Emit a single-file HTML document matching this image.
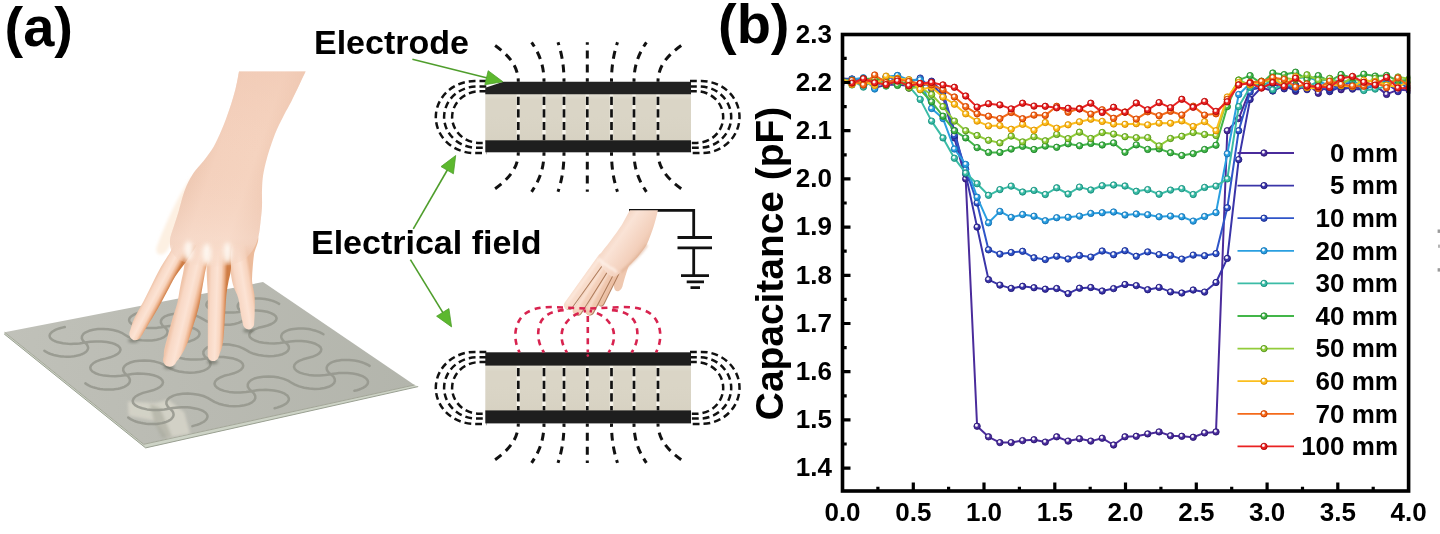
<!DOCTYPE html>
<html><head><meta charset="utf-8"><title>Figure</title>
<style>
html,body{margin:0;padding:0;background:#fff;}
body{width:1440px;height:534px;overflow:hidden;font-family:"Liberation Sans",sans-serif;}
svg{display:block;filter:blur(0.45px);}
text{font-family:"Liberation Sans",sans-serif;fill:#000;}
.b{font-weight:bold;}
.b25{font-weight:bold;font-size:26px;}
.b34{font-weight:bold;font-size:34px;}
.b55{font-weight:bold;font-size:56px;}
</style></head><body>
<svg width="1440" height="534" viewBox="0 0 1440 534">
<rect width="1440" height="534" fill="#ffffff"/>
<g id="handplate">
<defs>
<linearGradient id="plg" gradientUnits="userSpaceOnUse" x1="5" y1="330" x2="415" y2="390"><stop offset="0" stop-color="#c0c1b9"/><stop offset="0.5" stop-color="#b9bab2"/><stop offset="1" stop-color="#b3b5ac"/></linearGradient>
<filter id="bl1" x="-20%" y="-20%" width="140%" height="140%"><feGaussianBlur stdDeviation="0.7"/></filter>
<filter id="bl3" x="-50%" y="-50%" width="200%" height="200%"><feGaussianBlur stdDeviation="3.5"/></filter>
<filter id="bl05" x="-5%" y="-5%" width="110%" height="110%"><feGaussianBlur stdDeviation="0.6"/></filter>
<filter id="bl2b" x="-80%" y="-50%" width="260%" height="200%"><feGaussianBlur stdDeviation="2.2"/></filter>
<filter id="bl2" x="-50%" y="-50%" width="200%" height="200%"><feGaussianBlur stdDeviation="1.6"/></filter>
<clipPath id="plclip"><polygon points="4.6,332.3 263.0,282.0 414.5,385.0 143.7,444.3"/></clipPath>
</defs>
<g filter="url(#bl1)">
<polygon points="4.6,332.3 143.7,444.3 414.5,385.0 418.2,386.6 145.6,447.9 4.2,334.0" fill="#cdd3c6"/>
<polyline points="4.2,334.0 145.6,447.9 418.2,386.6" fill="none" stroke="#9aa092" stroke-width="1.0"/>
<polygon points="4.6,332.3 263.0,282.0 414.5,385.0 143.7,444.3" fill="url(#plg)"/>
<polyline points="4.6,332.3 143.7,444.3 414.5,385.0" fill="none" stroke="#a3a698" stroke-width="1"/>
<g clip-path="url(#plclip)">
<polygon points="127.8,401.5 156,403 168,399.5 184.3,412.2 190.2,434 167.5,437.8 155.6,421 128.7,415.8" fill="#d9d7cb" opacity="0.8" filter="url(#bl2)"/>
<polygon points="150,404 160,408 172,437 162,438 154,421" fill="#a5a699" opacity="0.55" filter="url(#bl2)"/>
<path d="M84.9,342.6 L90.3,341.8 L95.9,341.4 L101.5,341.5 L106.8,342.0 L111.5,342.9 L115.4,344.3 L118.2,345.9 L120.0,347.8 L120.5,349.8 L119.7,351.9 L117.7,353.9 L114.5,355.7 L110.4,357.3 L105.5,358.6 L100.5,359.8 L96.4,361.4 L93.2,363.3 L91.1,365.3 L90.3,367.5 L90.7,369.5 L92.4,371.5 L95.4,373.2 L99.3,374.6 L104.1,375.6 L109.5,376.1 L115.2,376.2 L121.0,375.8 L126.5,374.9 M84.9,342.6 L82.8,340.5 L81.8,338.3 L82.0,336.1 L83.3,334.1 L85.7,332.3 L89.1,330.8 L93.2,329.7 L97.9,329.0 L103.0,328.9 L108.1,329.2 L113.1,330.0 L117.7,331.2 L121.7,332.8 L124.8,334.7 L128.0,336.6 L131.9,338.2 L136.6,339.4 L141.6,340.2 L146.8,340.5 L151.9,340.4 L156.6,339.7 L160.7,338.6 L164.0,337.1 L166.2,335.3 L167.4,333.2 L167.5,331.1 L166.4,328.9 L164.2,326.8 M164.2,326.8 L169.5,326.0 L175.0,325.7 L180.5,325.7 L185.7,326.2 L190.4,327.2 L194.2,328.5 L197.2,330.1 L199.0,331.9 L199.6,333.9 L198.9,335.9 L197.1,337.8 L194.1,339.6 L190.1,341.2 L185.3,342.4 L180.5,343.6 L176.5,345.2 L173.5,347.0 L171.6,349.0 L170.9,351.0 L171.4,353.1 L173.2,355.0 L176.2,356.6 L180.2,358.0 L184.9,359.0 L190.3,359.5 L195.9,359.6 L201.6,359.2 L206.9,358.3 M164.2,326.8 L162.0,324.8 L160.9,322.6 L161.0,320.5 L162.2,318.5 L164.4,316.7 L167.6,315.3 L171.7,314.2 L176.3,313.6 L181.2,313.4 L186.3,313.7 L191.3,314.5 L195.9,315.7 L199.8,317.3 L203.0,319.1 L206.2,321.0 L210.2,322.5 L214.9,323.7 L219.9,324.5 L225.0,324.8 L230.0,324.7 L234.6,324.0 L238.5,322.9 L241.7,321.5 L243.8,319.7 L244.9,317.7 L244.8,315.6 L243.6,313.5 L241.3,311.5 M241.3,311.5 L246.5,310.7 L251.9,310.3 L257.3,310.4 L262.5,310.9 L267.1,311.8 L271.0,313.1 L274.0,314.6 L275.9,316.4 L276.6,318.3 L276.0,320.3 L274.3,322.2 L271.4,324.0 L267.6,325.5 L263.0,326.7 L258.4,327.8 L254.5,329.4 L251.6,331.1 L249.8,333.1 L249.3,335.1 L249.9,337.1 L251.8,338.9 L254.8,340.5 L258.8,341.9 L263.5,342.8 L268.8,343.3 L274.4,343.4 L279.9,343.0 L285.1,342.2 M126.5,374.9 L132.0,374.0 L137.7,373.6 L143.4,373.7 L148.8,374.2 L153.6,375.2 L157.6,376.6 L160.6,378.3 L162.4,380.3 L163.0,382.4 L162.3,384.6 L160.3,386.7 L157.1,388.6 L152.9,390.3 L148.0,391.6 L143.0,392.9 L138.8,394.6 L135.5,396.5 L133.5,398.7 L132.7,400.9 L133.2,403.1 L135.1,405.1 L138.1,406.9 L142.2,408.3 L147.1,409.4 L152.6,409.9 L158.5,410.0 L164.3,409.5 L169.9,408.6 M126.5,374.9 L124.3,372.7 L123.2,370.4 L123.3,368.1 L124.6,366.0 L127.0,364.1 L130.4,362.5 L134.6,361.3 L139.4,360.7 L144.5,360.5 L149.8,360.8 L154.9,361.6 L159.6,362.9 L163.7,364.6 L167.0,366.5 L170.2,368.5 L174.4,370.2 L179.1,371.5 L184.3,372.3 L189.6,372.7 L194.8,372.5 L199.6,371.8 L203.7,370.6 L207.0,369.0 L209.3,367.1 L210.4,365.0 L210.4,362.7 L209.2,360.5 L206.9,358.3 M206.9,358.3 L212.3,357.5 L217.9,357.1 L223.5,357.1 L228.8,357.7 L233.6,358.6 L237.6,360.0 L240.7,361.7 L242.6,363.6 L243.2,365.6 L242.7,367.7 L240.8,369.8 L237.8,371.7 L233.8,373.3 L229.0,374.6 L224.1,375.8 L220.1,377.5 L217.0,379.4 L215.1,381.5 L214.5,383.6 L215.1,385.7 L217.0,387.7 L220.1,389.5 L224.2,390.9 L229.1,391.9 L234.6,392.4 L240.3,392.5 L246.1,392.1 L251.5,391.2 M206.9,358.3 L204.6,356.2 L203.4,353.9 L203.4,351.7 L204.6,349.6 L206.8,347.7 L210.1,346.2 L214.1,345.1 L218.8,344.4 L223.9,344.3 L229.1,344.6 L234.1,345.4 L238.9,346.6 L243.0,348.3 L246.3,350.2 L249.6,352.1 L253.8,353.8 L258.5,355.0 L263.6,355.8 L268.9,356.2 L274.0,356.0 L278.6,355.3 L282.6,354.2 L285.8,352.6 L287.9,350.8 L288.9,348.7 L288.8,346.5 L287.5,344.3 L285.1,342.2 M285.1,342.2 L290.3,341.4 L295.8,341.0 L301.4,341.0 L306.6,341.6 L311.4,342.5 L315.4,343.8 L318.5,345.5 L320.5,347.3 L321.3,349.3 L320.8,351.4 L319.1,353.4 L316.3,355.2 L312.4,356.8 L307.7,358.0 L303.0,359.3 L299.1,360.9 L296.2,362.7 L294.5,364.8 L294.0,366.9 L294.7,368.9 L296.7,370.9 L299.8,372.6 L303.9,373.9 L308.8,374.9 L314.2,375.5 L319.9,375.5 L325.5,375.1 L330.8,374.2 M169.9,408.6 L167.6,406.3 L166.4,403.9 L166.5,401.5 L167.7,399.3 L170.1,397.3 L173.5,395.6 L177.8,394.4 L182.6,393.7 L187.9,393.5 L193.3,393.9 L198.5,394.7 L203.4,396.0 L207.6,397.8 L211.0,399.8 L214.4,401.9 L218.7,403.7 L223.6,405.0 L228.9,405.9 L234.3,406.2 L239.6,406.0 L244.5,405.3 L248.6,404.1 L252.0,402.4 L254.2,400.4 L255.3,398.2 L255.2,395.8 L253.9,393.4 L251.5,391.2 M251.5,391.2 L249.1,388.9 L247.8,386.6 L247.8,384.3 L248.9,382.1 L251.1,380.1 L254.3,378.5 L258.4,377.4 L263.2,376.7 L268.4,376.5 L273.7,376.8 L278.9,377.6 L283.7,378.9 L288.0,380.6 L291.5,382.7 L294.9,384.7 L299.2,386.4 L304.1,387.7 L309.4,388.5 L314.7,388.9 L319.9,388.7 L324.6,388.0 L328.7,386.8 L331.9,385.2 L334.0,383.2 L334.9,381.1 L334.7,378.8 L333.3,376.4 L330.8,374.2 M84.9,342.6 L82.2,343.1 L79.5,343.5 L76.7,343.7 L73.9,343.8 L71.0,343.9 L68.3,343.8 L65.6,343.6 L63.0,343.3 L60.6,342.8 L58.3,342.3 L56.3,341.7 L54.5,341.0 L52.9,340.2 L51.7,339.3 L50.7,338.4 L50.0,337.5 L49.7,336.5 L49.6,335.5 L49.9,334.5 L50.5,333.5 L51.4,332.5 L52.6,331.5 L54.1,330.6 L55.8,329.7 L57.8,328.9 L59.9,328.2 L62.3,327.6 L64.8,327.0 M169.9,408.6 L172.7,408.1 L175.5,407.7 L178.4,407.4 L181.3,407.3 L184.3,407.2 L187.2,407.3 L190.0,407.6 L192.7,407.9 L195.2,408.4 L197.6,408.9 L199.8,409.6 L201.8,410.4 L203.5,411.2 L204.9,412.2 L206.0,413.2 L206.8,414.2 L207.3,415.3 L207.5,416.4 L207.3,417.6 L206.8,418.7 L206.0,419.8 L204.8,420.9 L203.4,422.0 L201.6,422.9 L199.7,423.9 L197.4,424.7 L195.0,425.4 L192.4,426.1 M84.9,342.6 L86.1,343.7 L87.0,344.7 L87.6,345.9 L88.0,347.0 L88.1,348.1 L87.8,349.2 L87.3,350.3 L86.5,351.3 L85.4,352.3 L84.1,353.1 L82.5,354.0 L80.6,354.7 L78.6,355.3 L76.4,355.8 L74.1,356.2 L71.6,356.5 L69.0,356.7 L66.4,356.7 L63.8,356.6 L61.2,356.4 L58.6,356.0 L56.1,355.5 L53.7,355.0 L51.5,354.3 L49.4,353.5 L47.5,352.6 L45.8,351.7 L44.4,350.7 M241.3,311.5 L240.1,310.5 L239.1,309.5 L238.3,308.4 L237.9,307.4 L237.7,306.3 L237.8,305.3 L238.2,304.3 L238.9,303.3 L239.8,302.4 L241.0,301.6 L242.4,300.9 L244.1,300.2 L245.9,299.6 L248.0,299.2 L250.2,298.8 L252.5,298.5 L254.9,298.4 L257.4,298.4 L259.9,298.5 L262.4,298.7 L264.9,299.0 L267.3,299.4 L269.6,300.0 L271.9,300.6 L274.0,301.3 L275.9,302.1 L277.6,303.0 L279.1,303.9 M164.2,326.8 L161.6,327.3 L158.9,327.6 L156.2,327.9 L153.4,328.0 L150.6,328.0 L147.9,327.9 L145.2,327.7 L142.7,327.4 L140.2,327.0 L138.0,326.5 L136.0,325.9 L134.2,325.2 L132.6,324.4 L131.3,323.6 L130.3,322.7 L129.6,321.8 L129.2,320.8 L129.1,319.9 L129.3,318.9 L129.8,317.9 L130.7,316.9 L131.8,316.0 L133.2,315.1 L134.8,314.2 L136.7,313.5 L138.8,312.8 L141.1,312.1 L143.5,311.6 M251.5,391.2 L254.2,390.7 L256.9,390.3 L259.8,390.0 L262.7,389.9 L265.6,389.8 L268.4,389.9 L271.2,390.2 L273.9,390.5 L276.4,390.9 L278.8,391.5 L281.0,392.1 L282.9,392.9 L284.7,393.7 L286.1,394.7 L287.3,395.6 L288.1,396.7 L288.6,397.7 L288.9,398.8 L288.8,399.9 L288.3,401.0 L287.6,402.1 L286.5,403.2 L285.2,404.2 L283.5,405.1 L281.6,406.0 L279.5,406.8 L277.1,407.6 L274.6,408.2 M126.5,374.9 L127.7,376.0 L128.7,377.1 L129.4,378.3 L129.8,379.4 L129.9,380.6 L129.7,381.8 L129.2,382.9 L128.4,384.0 L127.3,385.0 L125.9,385.9 L124.3,386.8 L122.5,387.5 L120.4,388.2 L118.2,388.7 L115.8,389.1 L113.3,389.4 L110.7,389.6 L108.0,389.6 L105.3,389.5 L102.7,389.3 L100.0,388.9 L97.5,388.4 L95.0,387.8 L92.7,387.1 L90.5,386.3 L88.6,385.4 L86.9,384.4 L85.4,383.4 M285.1,342.2 L283.8,341.1 L282.7,340.1 L282.0,339.0 L281.5,337.9 L281.2,336.8 L281.3,335.7 L281.7,334.7 L282.3,333.7 L283.3,332.7 L284.5,331.9 L285.9,331.1 L287.6,330.4 L289.4,329.8 L291.5,329.3 L293.7,328.9 L296.0,328.7 L298.5,328.5 L301.0,328.5 L303.6,328.6 L306.1,328.8 L308.7,329.1 L311.2,329.6 L313.6,330.2 L315.9,330.8 L318.1,331.6 L320.0,332.4 L321.8,333.3 L323.4,334.3 M241.3,311.5 L238.8,311.9 L236.2,312.3 L233.5,312.5 L230.8,312.6 L228.0,312.6 L225.3,312.5 L222.7,312.4 L220.2,312.0 L217.8,311.6 L215.5,311.1 L213.5,310.5 L211.7,309.9 L210.1,309.1 L208.8,308.3 L207.7,307.4 L207.0,306.5 L206.5,305.6 L206.4,304.6 L206.6,303.7 L207.0,302.7 L207.8,301.8 L208.8,300.9 L210.1,300.0 L211.7,299.2 L213.5,298.4 L215.6,297.7 L217.8,297.1 L220.1,296.6 M330.8,374.2 L333.4,373.8 L336.1,373.4 L338.9,373.1 L341.7,373.0 L344.5,372.9 L347.4,373.0 L350.1,373.2 L352.8,373.6 L355.3,374.0 L357.7,374.5 L359.8,375.2 L361.8,375.9 L363.5,376.7 L365.0,377.6 L366.2,378.6 L367.1,379.6 L367.7,380.6 L368.0,381.7 L367.9,382.8 L367.6,383.8 L366.9,384.9 L365.9,385.9 L364.6,386.9 L363.0,387.8 L361.2,388.7 L359.2,389.5 L356.9,390.2 L354.4,390.8 M169.9,408.6 L171.2,409.8 L172.2,410.9 L173.0,412.2 L173.4,413.4 L173.6,414.6 L173.4,415.8 L172.9,417.0 L172.1,418.1 L171.1,419.2 L169.7,420.2 L168.1,421.1 L166.2,421.9 L164.2,422.5 L161.9,423.1 L159.5,423.6 L156.9,423.9 L154.3,424.0 L151.5,424.1 L148.8,424.0 L146.0,423.7 L143.3,423.3 L140.7,422.8 L138.2,422.2 L135.8,421.5 L133.6,420.6 L131.6,419.7 L129.8,418.6 L128.2,417.5 M330.8,374.2 L329.4,373.2 L328.3,372.0 L327.5,370.9 L326.9,369.8 L326.7,368.6 L326.7,367.5 L327.1,366.4 L327.7,365.4 L328.6,364.4 L329.8,363.5 L331.2,362.6 L332.9,361.9 L334.8,361.3 L336.9,360.8 L339.1,360.4 L341.5,360.1 L344.0,359.9 L346.6,359.9 L349.2,360.0 L351.8,360.2 L354.4,360.6 L357.0,361.1 L359.5,361.6 L361.8,362.3 L364.1,363.1 L366.1,364.0 L368.0,364.9 L369.6,365.9" fill="none" stroke="#94968c" stroke-width="2.5" stroke-linecap="round" stroke-linejoin="round" opacity="0.85" filter="url(#bl05)"/>
<ellipse cx="133.5" cy="340.5" rx="5.5" ry="2.2" fill="#55584e" opacity="0.55" filter="url(#bl2)"/>
<ellipse cx="169" cy="367" rx="5.5" ry="2.2" fill="#55584e" opacity="0.55" filter="url(#bl2)"/>
<ellipse cx="212.5" cy="362" rx="5.5" ry="2.2" fill="#55584e" opacity="0.55" filter="url(#bl2)"/>
<ellipse cx="248.5" cy="330.5" rx="5.5" ry="2.2" fill="#55584e" opacity="0.55" filter="url(#bl2)"/>
</g>
</g>
<defs>
<linearGradient id="skA" gradientUnits="userSpaceOnUse" x1="196" y1="130" x2="284" y2="160"><stop offset="0" stop-color="#eac2ab"/><stop offset="0.3" stop-color="#f4d1bd"/><stop offset="0.7" stop-color="#f5d3bf"/><stop offset="1" stop-color="#edc5ae"/></linearGradient>
<linearGradient id="skV" gradientUnits="userSpaceOnUse" x1="0" y1="70" x2="0" y2="280"><stop offset="0" stop-color="#f0c9b4" stop-opacity="0.6"/><stop offset="0.4" stop-color="#f3cdb9" stop-opacity="0"/><stop offset="0.8" stop-color="#fbe6da" stop-opacity="0.4"/><stop offset="1" stop-color="#f9ddcd" stop-opacity="0.3"/></linearGradient>
<linearGradient id="f1" gradientUnits="userSpaceOnUse" x1="151.8" y1="284.8" x2="166.6" y2="292.6"><stop offset="0" stop-color="#f0c5aa"/><stop offset="0.16" stop-color="#f8d8c5"/><stop offset="0.48" stop-color="#fce3d4"/><stop offset="0.7" stop-color="#f8d5bf"/><stop offset="0.85" stop-color="#ecb18a"/><stop offset="1" stop-color="#cf7d45"/></linearGradient>
<linearGradient id="f2" gradientUnits="userSpaceOnUse" x1="177.3" y1="303.0" x2="198.5" y2="308.2"><stop offset="0" stop-color="#f0c5aa"/><stop offset="0.16" stop-color="#f8d8c5"/><stop offset="0.48" stop-color="#fce3d4"/><stop offset="0.7" stop-color="#f8d5bf"/><stop offset="0.85" stop-color="#ecb18a"/><stop offset="1" stop-color="#cf7d45"/></linearGradient>
<linearGradient id="f3" gradientUnits="userSpaceOnUse" x1="207.8" y1="296.7" x2="226.2" y2="297.3"><stop offset="0" stop-color="#f0c5aa"/><stop offset="0.16" stop-color="#f8d8c5"/><stop offset="0.48" stop-color="#fce3d4"/><stop offset="0.7" stop-color="#f8d5bf"/><stop offset="0.85" stop-color="#ecb18a"/><stop offset="1" stop-color="#cf7d45"/></linearGradient>
<linearGradient id="f4" gradientUnits="userSpaceOnUse" x1="232.9" y1="284.6" x2="252.1" y2="281.4"><stop offset="0" stop-color="#f0c5aa"/><stop offset="0.2" stop-color="#f8d8c5"/><stop offset="0.55" stop-color="#fce3d4"/><stop offset="0.85" stop-color="#f7d3bd"/><stop offset="1" stop-color="#ecbb9b"/></linearGradient>
<linearGradient id="fadeg" gradientUnits="userSpaceOnUse" x1="0" y1="244" x2="0" y2="270"><stop offset="0" stop-color="#fff"/><stop offset="1" stop-color="#000"/></linearGradient>
<mask id="armfade" maskUnits="userSpaceOnUse" x="100" y="60" width="260" height="260"><rect x="100" y="60" width="260" height="260" fill="url(#fadeg)"/></mask>
</defs>
<g filter="url(#bl1)">
<path d="M192,176 C178,196 167,220 157,246 C154,254 161,258 167,251 C174,238 184,216 196,196 Z" fill="#fdf0e2" filter="url(#bl2)"/>
<path d="M229.0,233.0 C224.4,236.0 228.8,247.5 229.0,253.4 C229.2,259.4 229.6,263.2 230.3,268.4 C230.9,273.6 231.6,279.6 232.9,284.6 C234.2,289.6 237.0,293.6 238.3,298.4 C239.6,303.2 240.0,309.4 240.7,313.6 C241.5,317.7 242.3,321.2 242.8,323.3 C243.2,325.3 243.1,325.0 243.4,325.8 C243.8,326.5 244.3,327.2 244.8,327.8 C245.4,328.3 246.1,328.8 246.8,329.1 C247.5,329.3 248.3,329.5 249.0,329.4 C249.8,329.3 250.5,329.1 251.2,328.7 C251.8,328.3 252.5,327.8 252.9,327.1 C253.4,326.5 253.8,325.7 254.0,324.9 C254.2,324.1 254.1,324.4 254.2,322.3 C254.3,320.3 254.6,316.9 254.7,312.4 C254.7,308.0 255.0,300.8 254.5,295.6 C254.1,290.4 252.4,286.0 252.1,281.4 C251.8,276.7 252.4,272.1 252.7,267.6 C253.1,263.1 253.3,260.0 254.0,254.6 C254.7,249.1 261.1,238.6 257.0,235.0 C252.8,231.4 233.7,229.9 229.0,233.0Z" fill="url(#f4)"/>
<path d="M207.0,236.1 C203.1,239.7 206.7,252.5 206.6,258.1 C206.5,263.6 206.5,265.5 206.6,269.5 C206.6,273.6 206.9,277.8 207.1,282.3 C207.3,286.9 207.7,290.1 207.8,296.7 C207.9,303.2 207.7,314.1 207.8,321.7 C207.8,329.3 207.8,337.0 207.8,342.4 C207.8,347.7 207.7,351.3 207.7,353.6 C207.7,355.9 207.6,355.3 207.7,356.1 C207.9,356.9 208.2,357.8 208.6,358.5 C209.0,359.1 209.6,359.7 210.2,360.2 C210.8,360.6 211.6,360.9 212.3,361.0 C213.0,361.1 213.9,361.1 214.6,360.9 C215.3,360.7 216.0,360.3 216.6,359.8 C217.3,359.3 217.8,358.6 218.2,357.9 C218.6,357.1 218.3,357.8 219.1,355.4 C219.8,353.1 221.8,349.2 222.8,343.6 C223.7,338.1 224.1,330.0 224.6,322.3 C225.2,314.6 225.7,303.8 226.2,297.3 C226.8,290.9 227.3,288.1 228.1,283.7 C228.8,279.2 230.4,274.8 230.8,270.5 C231.3,266.2 230.7,263.7 230.6,257.9 C230.5,252.2 233.9,239.6 230.0,235.9 C226.1,232.3 210.9,232.4 207.0,236.1Z" fill="url(#f3)"/>
<path d="M187.6,234.8 C183.4,237.5 186.3,247.6 185.6,253.5 C184.9,259.3 184.5,264.5 183.6,270.0 C182.7,275.5 181.2,281.2 180.2,286.7 C179.1,292.2 178.6,297.6 177.3,303.0 C175.9,308.4 173.9,313.7 172.3,319.2 C170.7,324.7 169.1,331.0 167.8,335.9 C166.4,340.9 165.1,345.4 164.4,348.8 C163.7,352.2 163.9,354.5 163.7,356.3 C163.4,358.1 163.1,358.4 163.1,359.4 C163.0,360.4 163.2,361.4 163.5,362.3 C163.9,363.3 164.4,364.1 165.0,364.8 C165.7,365.5 166.5,366.0 167.3,366.3 C168.2,366.6 169.1,366.8 170.0,366.7 C171.0,366.6 171.9,366.3 172.8,365.9 C173.6,365.4 174.5,364.8 175.1,364.0 C175.8,363.2 175.7,362.8 176.7,361.3 C177.7,359.8 179.4,358.3 181.2,355.2 C183.0,352.1 185.6,347.6 187.6,342.7 C189.7,337.7 191.5,331.3 193.3,325.6 C195.1,319.8 197.1,314.0 198.5,308.2 C200.0,302.4 200.8,296.5 201.8,290.7 C202.9,285.0 203.7,279.5 204.8,273.8 C205.9,268.1 207.5,262.6 208.4,256.5 C209.3,250.4 213.9,240.8 210.4,237.2 C207.0,233.6 191.7,232.1 187.6,234.8Z" fill="url(#f2)"/>
<path d="M178.9,232.0 C174.7,233.4 175.2,242.5 172.2,248.4 C169.2,254.3 164.0,261.4 160.6,267.5 C157.2,273.5 154.6,279.1 151.8,284.8 C148.9,290.5 146.3,296.1 143.3,301.8 C140.3,307.4 136.2,314.1 134.0,318.9 C131.8,323.7 130.9,328.2 130.1,330.6 C129.3,333.0 129.5,332.4 129.4,333.3 C129.3,334.2 129.4,335.2 129.7,336.0 C129.9,336.8 130.4,337.6 130.9,338.3 C131.4,338.9 132.1,339.4 132.8,339.7 C133.6,340.1 134.4,340.3 135.2,340.2 C136.1,340.2 136.9,340.0 137.7,339.7 C138.5,339.3 139.3,338.7 139.9,338.1 C140.5,337.4 140.2,337.8 141.5,335.8 C142.7,333.8 144.8,330.3 147.4,325.9 C150.1,321.5 154.1,315.0 157.3,309.4 C160.5,303.9 163.6,298.1 166.6,292.6 C169.7,287.1 171.7,282.2 175.4,276.3 C179.1,270.5 185.2,263.7 188.8,257.6 C192.4,251.6 198.8,244.3 197.1,240.0 C195.5,235.8 183.0,230.6 178.9,232.0Z" fill="url(#f1)"/>
<g mask="url(#armfade)"><path d="M239.0,71.5 C238.4,74.4 237.1,82.8 235.5,89.0 C233.9,95.2 231.8,102.3 229.5,109.0 C227.2,115.7 224.7,122.7 222.0,129.0 C219.3,135.3 216.6,141.7 213.5,147.0 C210.4,152.3 206.8,156.7 203.5,161.0 C200.2,165.3 196.3,168.8 193.5,173.0 C190.7,177.2 188.4,181.7 186.5,186.0 C184.6,190.3 183.3,194.7 182.0,199.0 C180.7,203.3 179.8,207.5 178.5,212.0 C177.2,216.5 175.4,221.3 174.0,226.0 C172.6,230.7 170.3,235.7 170.0,240.0 C169.7,244.3 170.3,248.7 172.0,252.0 C173.7,255.3 176.7,258.0 180.0,260.0 C183.3,262.0 187.7,263.0 192.0,264.0 C196.3,265.0 201.3,265.7 206.0,266.0 C210.7,266.3 215.3,266.3 220.0,266.0 C224.7,265.7 229.7,265.3 234.0,264.0 C238.3,262.7 242.7,260.7 246.0,258.0 C249.3,255.3 251.9,251.7 254.0,248.0 C256.1,244.3 257.4,240.3 258.5,236.0 C259.6,231.7 259.9,227.0 260.5,222.0 C261.1,217.0 261.8,211.3 262.0,206.0 C262.2,200.7 261.8,195.0 262.0,190.0 C262.2,185.0 262.2,181.3 263.0,176.0 C263.8,170.7 265.0,165.0 267.0,158.0 C269.0,151.0 272.3,140.8 275.0,134.0 C277.7,127.2 280.2,122.7 283.0,117.0 C285.8,111.3 288.2,107.6 292.0,100.0 C295.8,92.4 303.3,76.2 305.6,71.5 Z" fill="url(#skA)"/>
<path d="M239.0,71.5 C238.4,74.4 237.1,82.8 235.5,89.0 C233.9,95.2 231.8,102.3 229.5,109.0 C227.2,115.7 224.7,122.7 222.0,129.0 C219.3,135.3 216.6,141.7 213.5,147.0 C210.4,152.3 206.8,156.7 203.5,161.0 C200.2,165.3 196.3,168.8 193.5,173.0 C190.7,177.2 188.4,181.7 186.5,186.0 C184.6,190.3 183.3,194.7 182.0,199.0 C180.7,203.3 179.8,207.5 178.5,212.0 C177.2,216.5 175.4,221.3 174.0,226.0 C172.6,230.7 170.3,235.7 170.0,240.0 C169.7,244.3 170.3,248.7 172.0,252.0 C173.7,255.3 176.7,258.0 180.0,260.0 C183.3,262.0 187.7,263.0 192.0,264.0 C196.3,265.0 201.3,265.7 206.0,266.0 C210.7,266.3 215.3,266.3 220.0,266.0 C224.7,265.7 229.7,265.3 234.0,264.0 C238.3,262.7 242.7,260.7 246.0,258.0 C249.3,255.3 251.9,251.7 254.0,248.0 C256.1,244.3 257.4,240.3 258.5,236.0 C259.6,231.7 259.9,227.0 260.5,222.0 C261.1,217.0 261.8,211.3 262.0,206.0 C262.2,200.7 261.8,195.0 262.0,190.0 C262.2,185.0 262.2,181.3 263.0,176.0 C263.8,170.7 265.0,165.0 267.0,158.0 C269.0,151.0 272.3,140.8 275.0,134.0 C277.7,127.2 280.2,122.7 283.0,117.0 C285.8,111.3 288.2,107.6 292.0,100.0 C295.8,92.4 303.3,76.2 305.6,71.5 Z" fill="url(#skV)"/></g>
<ellipse cx="188.5" cy="251" rx="4.6" ry="10" fill="#fffaf4" opacity="0.9" filter="url(#bl2b)"/>
<ellipse cx="207" cy="254" rx="4.6" ry="10.5" fill="#fffaf4" opacity="0.9" filter="url(#bl2b)"/>
<ellipse cx="227.5" cy="253" rx="4.6" ry="10.5" fill="#fffaf4" opacity="0.9" filter="url(#bl2b)"/>
</g>
</g>
<g id="diagram">
<defs><linearGradient id="dielg" x1="0" x2="0" y1="0" y2="1"><stop offset="0" stop-color="#fff" stop-opacity="0.25"/><stop offset="0.15" stop-color="#fff" stop-opacity="0.0"/><stop offset="1" stop-color="#8a7f60" stop-opacity="0.04"/></linearGradient></defs>
<path d="M518.3,152.3 C518.3,168.3 508.6,179.8 490.6,191.8 M518.3,81.8 C518.3,65.8 508.6,54.3 490.6,42.3 M544.0,152.3 C544.0,168.3 539.7,179.8 531.6,191.8 M544.0,81.8 C544.0,65.8 539.7,54.3 531.6,42.3 M564.0,152.3 C564.0,168.3 561.9,179.8 558.0,191.8 M564.0,81.8 C564.0,65.8 561.9,54.3 558.0,42.3 M587.3,152.3 C587.3,168.3 587.3,179.8 587.3,191.8 M587.3,81.8 C587.3,65.8 587.3,54.3 587.3,42.3 M611.5,152.3 C611.5,168.3 613.6,179.8 617.5,191.8 M611.5,81.8 C611.5,65.8 613.6,54.3 617.5,42.3 M634.0,152.3 C634.0,168.3 638.3,179.8 646.4,191.8 M634.0,81.8 C634.0,65.8 638.3,54.3 646.4,42.3 M658.0,152.3 C658.0,168.3 667.7,179.8 685.7,191.8 M658.0,81.8 C658.0,65.8 667.7,54.3 685.7,42.3" fill="none" stroke="#111" stroke-width="3.0" stroke-dasharray="7.9 6.0" stroke-dashoffset="4.6"/>
<path d="M486.3,81.1 h-11.6 a38.9,36 0 0 0 0,72.0 h11.6 M690.0,81.1 h11.6 a37.9,36 0 0 1 0,72.0 h-11.6 M486.3,86.4 h-9.2 a33.0,30.7 0 0 0 0,61.4 h9.2 M690.0,86.4 h9.2 a32.0,30.7 0 0 1 0,61.4 h-9.2 M486.3,91.3 h-6.7 a27.5,25.8 0 0 0 0,51.6 h6.7 M690.0,91.3 h6.7 a26.5,25.8 0 0 1 0,51.6 h-6.7" fill="none" stroke="#111" stroke-width="2.5" stroke-dasharray="6.8 4.0"/>
<rect x="485.3" y="93.2" width="205.7" height="48.1" fill="#dad5c6"/>
<rect x="485.3" y="93.2" width="205.7" height="48.1" fill="url(#dielg)"/>
<path d="M518.3,94.2V140.3 M544.0,94.2V140.3 M564.0,94.2V140.3 M587.3,94.2V140.3 M611.5,94.2V140.3 M634.0,94.2V140.3 M658.0,94.2V140.3" stroke="#f6f3ea" stroke-width="3.4" fill="none"/>
<path d="M518.3,94.2V140.3 M544.0,94.2V140.3 M564.0,94.2V140.3 M587.3,94.2V140.3 M611.5,94.2V140.3 M634.0,94.2V140.3 M658.0,94.2V140.3" stroke="#111" stroke-width="2.7" fill="none" stroke-dasharray="8.2 4.4" stroke-dashoffset="-2.5"/>
<polygon points="485.3,94.2 485.3,87.8 503.3,81.8 691.0,81.8 691.0,94.2" fill="#222"/>
<rect x="485.3" y="140.3" width="205.7" height="12.0" fill="#1e1e1e"/>
<path d="M518.3,423.4 C518.3,439.4 508.6,450.9 490.6,462.9 M544.0,423.4 C544.0,439.4 539.7,450.9 531.6,462.9 M564.0,423.4 C564.0,439.4 561.9,450.9 558.0,462.9 M587.3,423.4 C587.3,439.4 587.3,450.9 587.3,462.9 M611.5,423.4 C611.5,439.4 613.6,450.9 617.5,462.9 M634.0,423.4 C634.0,439.4 638.3,450.9 646.4,462.9 M658.0,423.4 C658.0,439.4 667.7,450.9 685.7,462.9" fill="none" stroke="#111" stroke-width="3.0" stroke-dasharray="7.9 6.0" stroke-dashoffset="4.6"/>
<path d="M486.3,351.9 h-11.6 a38.9,36 0 0 0 0,72.0 h11.6 M690.0,351.9 h11.6 a37.9,36 0 0 1 0,72.0 h-11.6 M486.3,357.2 h-9.2 a33.0,30.7 0 0 0 0,61.4 h9.2 M690.0,357.2 h9.2 a32.0,30.7 0 0 1 0,61.4 h-9.2 M486.3,362.1 h-6.7 a27.5,25.8 0 0 0 0,51.6 h6.7 M690.0,362.1 h6.7 a26.5,25.8 0 0 1 0,51.6 h-6.7" fill="none" stroke="#111" stroke-width="2.5" stroke-dasharray="6.8 4.0"/>
<rect x="485.3" y="364.6" width="205.7" height="46.8" fill="#dad5c6"/>
<rect x="485.3" y="364.6" width="205.7" height="46.8" fill="url(#dielg)"/>
<path d="M518.3,365.6V410.4 M544.0,365.6V410.4 M564.0,365.6V410.4 M587.3,365.6V410.4 M611.5,365.6V410.4 M634.0,365.6V410.4 M658.0,365.6V410.4" stroke="#f6f3ea" stroke-width="3.4" fill="none"/>
<path d="M518.3,365.6V410.4 M544.0,365.6V410.4 M564.0,365.6V410.4 M587.3,365.6V410.4 M611.5,365.6V410.4 M634.0,365.6V410.4 M658.0,365.6V410.4" stroke="#111" stroke-width="2.7" fill="none" stroke-dasharray="8.2 4.4" stroke-dashoffset="-2.5"/>
<rect x="485.3" y="352.3" width="205.7" height="13.3" fill="#1e1e1e"/>
<rect x="485.3" y="410.4" width="205.7" height="13.0" fill="#1e1e1e"/>
<path d="M629,210.3 H693.7 V237.5 M677.5,237.5 H712 M677.5,247.8 H712 M693.7,247.8 V275.7 M681,275.7 H709 M686.7,281.8 H704 M690.5,287.6 H700" fill="none" stroke="#111" stroke-width="2.8"/>
<circle cx="587.8" cy="355.6" r="1.3" fill="#d8234f"/>
<defs><linearGradient id="sh1" gradientUnits="userSpaceOnUse" x1="600" y1="240" x2="640" y2="268"><stop offset="0" stop-color="#efcab4"/><stop offset="0.3" stop-color="#fae3d6"/><stop offset="0.7" stop-color="#f3d0bc"/><stop offset="1" stop-color="#e2b598"/></linearGradient><filter id="sbl" x="-20%" y="-20%" width="140%" height="140%"><feGaussianBlur stdDeviation="0.55"/></filter><filter id="sbl2" x="-50%" y="-50%" width="200%" height="200%"><feGaussianBlur stdDeviation="1.0"/></filter></defs>
<g filter="url(#sbl)">
<path d="M633,254 C629,265 625,276 622.8,285 C621.8,290.5 617.5,293 615,290 C613,286.5 613.3,278 614,271 C616,263 622,255 628,249 Z" fill="#efc8b0"/>
<line x1="617.9" y1="268.6" x2="601.1" y2="302.6" stroke="#a87452" stroke-width="7.4" stroke-linecap="round" opacity="0.9"/>
<line x1="617" y1="268" x2="600.2" y2="302.0" stroke="#ecbfa3" stroke-width="7.4" stroke-linecap="round"/>
<line x1="615.8" y1="267.2" x2="599.6" y2="299.5" stroke="#fff1e8" stroke-width="2.6" stroke-linecap="round" opacity="0.55" filter="url(#sbl2)"/>
<line x1="613.4" y1="266.6" x2="590.1" y2="311.20000000000005" stroke="#a87452" stroke-width="8.6" stroke-linecap="round" opacity="0.9"/>
<line x1="612.5" y1="266" x2="589.2" y2="310.6" stroke="#f0c7ae" stroke-width="8.6" stroke-linecap="round"/>
<line x1="611.3" y1="265.2" x2="588.6" y2="308.1" stroke="#fff1e8" stroke-width="3.0" stroke-linecap="round" opacity="0.55" filter="url(#sbl2)"/>
<line x1="608.4" y1="263.1" x2="577.9" y2="311.40000000000003" stroke="#a87452" stroke-width="8.8" stroke-linecap="round" opacity="0.9"/>
<line x1="607.5" y1="262.5" x2="577.0" y2="310.8" stroke="#f4d0ba" stroke-width="8.8" stroke-linecap="round"/>
<line x1="606.3" y1="261.7" x2="576.4" y2="308.3" stroke="#fff1e8" stroke-width="3.1" stroke-linecap="round" opacity="0.55" filter="url(#sbl2)"/>
<line x1="603.1" y1="258.1" x2="569.0" y2="305.8" stroke="#a87452" stroke-width="8.6" stroke-linecap="round" opacity="0.9"/>
<line x1="602.2" y1="257.5" x2="568.1" y2="305.2" stroke="#f8dccb" stroke-width="8.6" stroke-linecap="round"/>
<line x1="601.0" y1="256.7" x2="567.5" y2="302.7" stroke="#fff1e8" stroke-width="3.0" stroke-linecap="round" opacity="0.55" filter="url(#sbl2)"/>
<path d="M629.8,210.3 L657.9,210.3 C656,220 652,233 646.6,245 C642,252 637,258 631,264 C626,269 621,273 616,276 C612,279 603,272 597.5,258 C602,251 606.5,246 610.7,240.4 C615,234.5 618.5,230 621.9,224.7 Z" fill="url(#sh1)"/>
<path d="M599,259 L604,264 M606,264.5 L611,268.5 M612.5,268.5 L616,271.5" stroke="#fff5ee" stroke-width="2.6" stroke-linecap="round" opacity="0.75" filter="url(#sbl2)"/>
<path d="M647,245 C641,254 632,263 621,272" fill="none" stroke="#d8a585" stroke-width="2.4" opacity="0.55" filter="url(#sbl2)"/>
</g>
<path d="M519.6,352.5 C514.0,342.0 513.5,328.0 520.8,318.0 C527.0,310.0 538.0,307.0 552.0,307.0 L586.0,308.5 M656.0,352.5 C661.6,342.0 662.1,328.0 654.8,318.0 C648.6,310.0 637.6,307.0 623.6,307.0 L589.6,308.5 M544.0,352.5 C537.0,342.0 536.5,330.0 541.5,320.6 C547.0,312.5 556.0,310.3 567.0,310.0 M631.6,352.5 C638.6,342.0 639.1,330.0 634.1,320.6 C628.6,312.5 619.6,310.3 608.6,310.0 M567.0,352.5 C560.5,343.0 559.5,331.0 566.0,323.0 C571.0,316.0 578.0,312.5 586.0,311.0 M608.6,352.5 C615.1,343.0 616.1,331.0 609.6,323.0 C604.6,316.0 597.6,312.5 589.6,311.0 M587.8,352.5 V313" fill="none" stroke="#d8234f" stroke-width="2.6" stroke-dasharray="6 5.2" stroke-dashoffset="3"/>
<line x1="412.4" y1="59.3" x2="488.4" y2="78.2" stroke="#4f9e2c" stroke-width="1.6"/><polygon points="503.0,81.8 484.8,84.7 488.2,70.7" fill="#5cb82e" stroke="#4f9e2c" stroke-width="0.8" stroke-linejoin="round"/>
<line x1="413.3" y1="228.8" x2="448.2" y2="168.5" stroke="#4f9e2c" stroke-width="1.6"/><polygon points="455.7,155.5 453.4,173.8 441.0,166.6" fill="#5cb82e" stroke="#4f9e2c" stroke-width="0.8" stroke-linejoin="round"/>
<line x1="410.4" y1="259.7" x2="443.8" y2="314.1" stroke="#4f9e2c" stroke-width="1.6"/><polygon points="451.6,326.9 436.6,316.2 448.9,308.6" fill="#5cb82e" stroke="#4f9e2c" stroke-width="0.8" stroke-linejoin="round"/>
</g>
<g id="chart">
<defs>
<radialGradient id="m0" cx="0.40" cy="0.36" r="0.62"><stop offset="0" stop-color="#ffffff"/><stop offset="0.22" stop-color="#ffffff" stop-opacity="0.9"/><stop offset="0.5" stop-color="#4a2b9b"/><stop offset="0.8" stop-color="#4a2b9b"/><stop offset="1" stop-color="#2e1a78"/></radialGradient>
<radialGradient id="m5" cx="0.40" cy="0.36" r="0.62"><stop offset="0" stop-color="#ffffff"/><stop offset="0.22" stop-color="#ffffff" stop-opacity="0.9"/><stop offset="0.5" stop-color="#3a34a8"/><stop offset="0.8" stop-color="#3a34a8"/><stop offset="1" stop-color="#231c80"/></radialGradient>
<radialGradient id="m10" cx="0.40" cy="0.36" r="0.62"><stop offset="0" stop-color="#ffffff"/><stop offset="0.22" stop-color="#ffffff" stop-opacity="0.9"/><stop offset="0.5" stop-color="#2f55c8"/><stop offset="0.8" stop-color="#2f55c8"/><stop offset="1" stop-color="#1c2f96"/></radialGradient>
<radialGradient id="m20" cx="0.40" cy="0.36" r="0.62"><stop offset="0" stop-color="#ffffff"/><stop offset="0.22" stop-color="#ffffff" stop-opacity="0.9"/><stop offset="0.5" stop-color="#2a9fe0"/><stop offset="0.8" stop-color="#2a9fe0"/><stop offset="1" stop-color="#1677ba"/></radialGradient>
<radialGradient id="m30" cx="0.40" cy="0.36" r="0.62"><stop offset="0" stop-color="#ffffff"/><stop offset="0.22" stop-color="#ffffff" stop-opacity="0.9"/><stop offset="0.5" stop-color="#3bbca6"/><stop offset="0.8" stop-color="#3bbca6"/><stop offset="1" stop-color="#1a9482"/></radialGradient>
<radialGradient id="m40" cx="0.40" cy="0.36" r="0.62"><stop offset="0" stop-color="#ffffff"/><stop offset="0.22" stop-color="#ffffff" stop-opacity="0.9"/><stop offset="0.5" stop-color="#43b649"/><stop offset="0.8" stop-color="#43b649"/><stop offset="1" stop-color="#228a2e"/></radialGradient>
<radialGradient id="m50" cx="0.40" cy="0.36" r="0.62"><stop offset="0" stop-color="#ffffff"/><stop offset="0.22" stop-color="#ffffff" stop-opacity="0.9"/><stop offset="0.5" stop-color="#92cc3a"/><stop offset="0.8" stop-color="#92cc3a"/><stop offset="1" stop-color="#5a9c1c"/></radialGradient>
<radialGradient id="m60" cx="0.40" cy="0.36" r="0.62"><stop offset="0" stop-color="#ffffff"/><stop offset="0.22" stop-color="#ffffff" stop-opacity="0.9"/><stop offset="0.5" stop-color="#fbbf1e"/><stop offset="0.8" stop-color="#fbbf1e"/><stop offset="1" stop-color="#e09000"/></radialGradient>
<radialGradient id="m70" cx="0.40" cy="0.36" r="0.62"><stop offset="0" stop-color="#ffffff"/><stop offset="0.22" stop-color="#ffffff" stop-opacity="0.9"/><stop offset="0.5" stop-color="#f46a1a"/><stop offset="0.8" stop-color="#f46a1a"/><stop offset="1" stop-color="#d04000"/></radialGradient>
<radialGradient id="m100" cx="0.40" cy="0.36" r="0.62"><stop offset="0" stop-color="#ffffff"/><stop offset="0.22" stop-color="#ffffff" stop-opacity="0.9"/><stop offset="0.5" stop-color="#ea2222"/><stop offset="0.8" stop-color="#ea2222"/><stop offset="1" stop-color="#b80808"/></radialGradient>
</defs>
<clipPath id="plotclip"><rect x="841.3" y="34.5" width="568.9" height="456.5"/></clipPath>
<g clip-path="url(#plotclip)">
<path d="M840.6,79.8 L852.0,80.9 L863.4,79.1 L874.7,87.9 L886.1,84.9 L897.5,84.4 L908.9,85.9 L920.2,86.3 L931.6,82.5 L943.0,97.0 L954.4,137.9 L965.7,178.9 L977.1,426.2 L988.5,436.8 L999.9,442.6 L1011.2,442.6 L1022.6,440.6 L1034.0,439.7 L1045.3,442.1 L1056.7,436.8 L1068.1,441.1 L1079.5,438.7 L1090.8,441.1 L1102.2,438.2 L1113.6,445.0 L1125.0,436.8 L1136.3,436.3 L1147.7,433.9 L1159.1,431.9 L1170.5,435.8 L1181.8,436.3 L1193.2,437.3 L1204.6,432.9 L1216.0,431.9 L1227.3,130.7 L1238.7,118.6 L1250.1,89.7 L1261.5,87.6 L1272.8,91.0 L1284.2,85.4 L1295.6,91.3 L1307.0,83.7 L1318.3,93.3 L1329.7,83.4 L1341.1,89.7 L1352.5,86.7 L1363.8,88.9 L1375.2,85.4 L1386.6,94.4 L1398.0,89.6 L1409.3,90.6" fill="none" stroke="#4a2b9b" stroke-width="2.0" stroke-linejoin="round"/>
<g fill="url(#m0)" stroke="#2e1a78" stroke-width="0.9">
<circle cx="840.6" cy="79.8" r="3.2"/><circle cx="852.0" cy="80.9" r="3.2"/><circle cx="863.4" cy="79.1" r="3.2"/><circle cx="874.7" cy="87.9" r="3.2"/><circle cx="886.1" cy="84.9" r="3.2"/><circle cx="897.5" cy="84.4" r="3.2"/><circle cx="908.9" cy="85.9" r="3.2"/><circle cx="920.2" cy="86.3" r="3.2"/><circle cx="931.6" cy="82.5" r="3.2"/><circle cx="943.0" cy="97.0" r="3.2"/><circle cx="954.4" cy="137.9" r="3.2"/><circle cx="965.7" cy="178.9" r="3.2"/><circle cx="977.1" cy="426.2" r="3.2"/><circle cx="988.5" cy="436.8" r="3.2"/><circle cx="999.9" cy="442.6" r="3.2"/><circle cx="1011.2" cy="442.6" r="3.2"/><circle cx="1022.6" cy="440.6" r="3.2"/><circle cx="1034.0" cy="439.7" r="3.2"/><circle cx="1045.3" cy="442.1" r="3.2"/><circle cx="1056.7" cy="436.8" r="3.2"/><circle cx="1068.1" cy="441.1" r="3.2"/><circle cx="1079.5" cy="438.7" r="3.2"/><circle cx="1090.8" cy="441.1" r="3.2"/><circle cx="1102.2" cy="438.2" r="3.2"/><circle cx="1113.6" cy="445.0" r="3.2"/><circle cx="1125.0" cy="436.8" r="3.2"/><circle cx="1136.3" cy="436.3" r="3.2"/><circle cx="1147.7" cy="433.9" r="3.2"/><circle cx="1159.1" cy="431.9" r="3.2"/><circle cx="1170.5" cy="435.8" r="3.2"/><circle cx="1181.8" cy="436.3" r="3.2"/><circle cx="1193.2" cy="437.3" r="3.2"/><circle cx="1204.6" cy="432.9" r="3.2"/><circle cx="1216.0" cy="431.9" r="3.2"/><circle cx="1227.3" cy="130.7" r="3.2"/><circle cx="1238.7" cy="118.6" r="3.2"/><circle cx="1250.1" cy="89.7" r="3.2"/><circle cx="1261.5" cy="87.6" r="3.2"/><circle cx="1272.8" cy="91.0" r="3.2"/><circle cx="1284.2" cy="85.4" r="3.2"/><circle cx="1295.6" cy="91.3" r="3.2"/><circle cx="1307.0" cy="83.7" r="3.2"/><circle cx="1318.3" cy="93.3" r="3.2"/><circle cx="1329.7" cy="83.4" r="3.2"/><circle cx="1341.1" cy="89.7" r="3.2"/><circle cx="1352.5" cy="86.7" r="3.2"/><circle cx="1363.8" cy="88.9" r="3.2"/><circle cx="1375.2" cy="85.4" r="3.2"/><circle cx="1386.6" cy="94.4" r="3.2"/><circle cx="1398.0" cy="89.6" r="3.2"/><circle cx="1409.3" cy="90.6" r="3.2"/>
</g>
<path d="M840.6,78.6 L852.0,79.1 L863.4,81.5 L874.7,83.8 L886.1,77.0 L897.5,78.7 L908.9,88.1 L920.2,84.9 L931.6,81.2 L943.0,92.1 L954.4,130.7 L965.7,174.1 L977.1,227.1 L988.5,279.6 L999.9,285.1 L1011.2,288.4 L1022.6,286.3 L1034.0,287.7 L1045.3,289.2 L1056.7,288.5 L1068.1,293.6 L1079.5,288.2 L1090.8,287.5 L1102.2,291.0 L1113.6,288.6 L1125.0,284.5 L1136.3,285.6 L1147.7,289.7 L1159.1,287.4 L1170.5,291.9 L1181.8,293.0 L1193.2,290.0 L1204.6,292.1 L1216.0,282.5 L1227.3,258.4 L1238.7,159.6 L1250.1,99.4 L1261.5,87.3 L1272.8,83.6 L1284.2,88.8 L1295.6,85.2 L1307.0,89.6 L1318.3,85.9 L1329.7,91.6 L1341.1,86.7 L1352.5,89.1 L1363.8,89.4 L1375.2,84.3 L1386.6,83.2 L1398.0,91.6 L1409.3,85.0" fill="none" stroke="#3a34a8" stroke-width="2.0" stroke-linejoin="round"/>
<g fill="url(#m5)" stroke="#231c80" stroke-width="0.9">
<circle cx="840.6" cy="78.6" r="3.2"/><circle cx="852.0" cy="79.1" r="3.2"/><circle cx="863.4" cy="81.5" r="3.2"/><circle cx="874.7" cy="83.8" r="3.2"/><circle cx="886.1" cy="77.0" r="3.2"/><circle cx="897.5" cy="78.7" r="3.2"/><circle cx="908.9" cy="88.1" r="3.2"/><circle cx="920.2" cy="84.9" r="3.2"/><circle cx="931.6" cy="81.2" r="3.2"/><circle cx="943.0" cy="92.1" r="3.2"/><circle cx="954.4" cy="130.7" r="3.2"/><circle cx="965.7" cy="174.1" r="3.2"/><circle cx="977.1" cy="227.1" r="3.2"/><circle cx="988.5" cy="279.6" r="3.2"/><circle cx="999.9" cy="285.1" r="3.2"/><circle cx="1011.2" cy="288.4" r="3.2"/><circle cx="1022.6" cy="286.3" r="3.2"/><circle cx="1034.0" cy="287.7" r="3.2"/><circle cx="1045.3" cy="289.2" r="3.2"/><circle cx="1056.7" cy="288.5" r="3.2"/><circle cx="1068.1" cy="293.6" r="3.2"/><circle cx="1079.5" cy="288.2" r="3.2"/><circle cx="1090.8" cy="287.5" r="3.2"/><circle cx="1102.2" cy="291.0" r="3.2"/><circle cx="1113.6" cy="288.6" r="3.2"/><circle cx="1125.0" cy="284.5" r="3.2"/><circle cx="1136.3" cy="285.6" r="3.2"/><circle cx="1147.7" cy="289.7" r="3.2"/><circle cx="1159.1" cy="287.4" r="3.2"/><circle cx="1170.5" cy="291.9" r="3.2"/><circle cx="1181.8" cy="293.0" r="3.2"/><circle cx="1193.2" cy="290.0" r="3.2"/><circle cx="1204.6" cy="292.1" r="3.2"/><circle cx="1216.0" cy="282.5" r="3.2"/><circle cx="1227.3" cy="258.4" r="3.2"/><circle cx="1238.7" cy="159.6" r="3.2"/><circle cx="1250.1" cy="99.4" r="3.2"/><circle cx="1261.5" cy="87.3" r="3.2"/><circle cx="1272.8" cy="83.6" r="3.2"/><circle cx="1284.2" cy="88.8" r="3.2"/><circle cx="1295.6" cy="85.2" r="3.2"/><circle cx="1307.0" cy="89.6" r="3.2"/><circle cx="1318.3" cy="85.9" r="3.2"/><circle cx="1329.7" cy="91.6" r="3.2"/><circle cx="1341.1" cy="86.7" r="3.2"/><circle cx="1352.5" cy="89.1" r="3.2"/><circle cx="1363.8" cy="89.4" r="3.2"/><circle cx="1375.2" cy="84.3" r="3.2"/><circle cx="1386.6" cy="83.2" r="3.2"/><circle cx="1398.0" cy="91.6" r="3.2"/><circle cx="1409.3" cy="85.0" r="3.2"/>
</g>
<path d="M840.6,85.3 L852.0,79.1 L863.4,86.2 L874.7,80.4 L886.1,85.0 L897.5,75.7 L908.9,82.5 L920.2,78.1 L931.6,88.9 L943.0,92.1 L954.4,135.5 L965.7,169.3 L977.1,203.0 L988.5,249.8 L999.9,254.1 L1011.2,252.5 L1022.6,251.3 L1034.0,257.8 L1045.3,259.5 L1056.7,256.2 L1068.1,259.0 L1079.5,255.5 L1090.8,257.1 L1102.2,251.0 L1113.6,254.7 L1125.0,250.7 L1136.3,256.3 L1147.7,251.9 L1159.1,254.6 L1170.5,255.4 L1181.8,259.1 L1193.2,255.1 L1204.6,255.7 L1216.0,253.6 L1227.3,207.8 L1238.7,130.7 L1250.1,92.1 L1261.5,81.9 L1272.8,90.7 L1284.2,82.9 L1295.6,89.5 L1307.0,83.7 L1318.3,86.6 L1329.7,89.4 L1341.1,86.4 L1352.5,81.3 L1363.8,88.5 L1375.2,84.8 L1386.6,83.6 L1398.0,80.9 L1409.3,89.5" fill="none" stroke="#2f55c8" stroke-width="2.0" stroke-linejoin="round"/>
<g fill="url(#m10)" stroke="#1c2f96" stroke-width="0.9">
<circle cx="840.6" cy="85.3" r="3.2"/><circle cx="852.0" cy="79.1" r="3.2"/><circle cx="863.4" cy="86.2" r="3.2"/><circle cx="874.7" cy="80.4" r="3.2"/><circle cx="886.1" cy="85.0" r="3.2"/><circle cx="897.5" cy="75.7" r="3.2"/><circle cx="908.9" cy="82.5" r="3.2"/><circle cx="920.2" cy="78.1" r="3.2"/><circle cx="931.6" cy="88.9" r="3.2"/><circle cx="943.0" cy="92.1" r="3.2"/><circle cx="954.4" cy="135.5" r="3.2"/><circle cx="965.7" cy="169.3" r="3.2"/><circle cx="977.1" cy="203.0" r="3.2"/><circle cx="988.5" cy="249.8" r="3.2"/><circle cx="999.9" cy="254.1" r="3.2"/><circle cx="1011.2" cy="252.5" r="3.2"/><circle cx="1022.6" cy="251.3" r="3.2"/><circle cx="1034.0" cy="257.8" r="3.2"/><circle cx="1045.3" cy="259.5" r="3.2"/><circle cx="1056.7" cy="256.2" r="3.2"/><circle cx="1068.1" cy="259.0" r="3.2"/><circle cx="1079.5" cy="255.5" r="3.2"/><circle cx="1090.8" cy="257.1" r="3.2"/><circle cx="1102.2" cy="251.0" r="3.2"/><circle cx="1113.6" cy="254.7" r="3.2"/><circle cx="1125.0" cy="250.7" r="3.2"/><circle cx="1136.3" cy="256.3" r="3.2"/><circle cx="1147.7" cy="251.9" r="3.2"/><circle cx="1159.1" cy="254.6" r="3.2"/><circle cx="1170.5" cy="255.4" r="3.2"/><circle cx="1181.8" cy="259.1" r="3.2"/><circle cx="1193.2" cy="255.1" r="3.2"/><circle cx="1204.6" cy="255.7" r="3.2"/><circle cx="1216.0" cy="253.6" r="3.2"/><circle cx="1227.3" cy="207.8" r="3.2"/><circle cx="1238.7" cy="130.7" r="3.2"/><circle cx="1250.1" cy="92.1" r="3.2"/><circle cx="1261.5" cy="81.9" r="3.2"/><circle cx="1272.8" cy="90.7" r="3.2"/><circle cx="1284.2" cy="82.9" r="3.2"/><circle cx="1295.6" cy="89.5" r="3.2"/><circle cx="1307.0" cy="83.7" r="3.2"/><circle cx="1318.3" cy="86.6" r="3.2"/><circle cx="1329.7" cy="89.4" r="3.2"/><circle cx="1341.1" cy="86.4" r="3.2"/><circle cx="1352.5" cy="81.3" r="3.2"/><circle cx="1363.8" cy="88.5" r="3.2"/><circle cx="1375.2" cy="84.8" r="3.2"/><circle cx="1386.6" cy="83.6" r="3.2"/><circle cx="1398.0" cy="80.9" r="3.2"/><circle cx="1409.3" cy="89.5" r="3.2"/>
</g>
<path d="M840.6,80.0 L852.0,79.4 L863.4,77.8 L874.7,89.0 L886.1,76.7 L897.5,75.5 L908.9,79.9 L920.2,79.8 L931.6,108.5 L943.0,118.6 L954.4,149.0 L965.7,164.4 L977.1,197.2 L988.5,222.8 L999.9,211.4 L1011.2,217.4 L1022.6,214.5 L1034.0,216.2 L1045.3,220.7 L1056.7,217.7 L1068.1,217.3 L1079.5,216.1 L1090.8,213.4 L1102.2,212.7 L1113.6,212.0 L1125.0,215.0 L1136.3,214.0 L1147.7,214.7 L1159.1,216.8 L1170.5,216.1 L1181.8,216.7 L1193.2,221.1 L1204.6,216.5 L1216.0,212.6 L1227.3,153.8 L1238.7,94.5 L1250.1,83.5 L1261.5,85.7 L1272.8,80.7 L1284.2,86.1 L1295.6,78.4 L1307.0,76.9 L1318.3,81.0 L1329.7,86.0 L1341.1,82.6 L1352.5,81.2 L1363.8,86.5 L1375.2,86.5 L1386.6,79.5 L1398.0,84.3 L1409.3,80.2" fill="none" stroke="#2a9fe0" stroke-width="2.0" stroke-linejoin="round"/>
<g fill="url(#m20)" stroke="#1677ba" stroke-width="0.9">
<circle cx="840.6" cy="80.0" r="3.2"/><circle cx="852.0" cy="79.4" r="3.2"/><circle cx="863.4" cy="77.8" r="3.2"/><circle cx="874.7" cy="89.0" r="3.2"/><circle cx="886.1" cy="76.7" r="3.2"/><circle cx="897.5" cy="75.5" r="3.2"/><circle cx="908.9" cy="79.9" r="3.2"/><circle cx="920.2" cy="79.8" r="3.2"/><circle cx="931.6" cy="108.5" r="3.2"/><circle cx="943.0" cy="118.6" r="3.2"/><circle cx="954.4" cy="149.0" r="3.2"/><circle cx="965.7" cy="164.4" r="3.2"/><circle cx="977.1" cy="197.2" r="3.2"/><circle cx="988.5" cy="222.8" r="3.2"/><circle cx="999.9" cy="211.4" r="3.2"/><circle cx="1011.2" cy="217.4" r="3.2"/><circle cx="1022.6" cy="214.5" r="3.2"/><circle cx="1034.0" cy="216.2" r="3.2"/><circle cx="1045.3" cy="220.7" r="3.2"/><circle cx="1056.7" cy="217.7" r="3.2"/><circle cx="1068.1" cy="217.3" r="3.2"/><circle cx="1079.5" cy="216.1" r="3.2"/><circle cx="1090.8" cy="213.4" r="3.2"/><circle cx="1102.2" cy="212.7" r="3.2"/><circle cx="1113.6" cy="212.0" r="3.2"/><circle cx="1125.0" cy="215.0" r="3.2"/><circle cx="1136.3" cy="214.0" r="3.2"/><circle cx="1147.7" cy="214.7" r="3.2"/><circle cx="1159.1" cy="216.8" r="3.2"/><circle cx="1170.5" cy="216.1" r="3.2"/><circle cx="1181.8" cy="216.7" r="3.2"/><circle cx="1193.2" cy="221.1" r="3.2"/><circle cx="1204.6" cy="216.5" r="3.2"/><circle cx="1216.0" cy="212.6" r="3.2"/><circle cx="1227.3" cy="153.8" r="3.2"/><circle cx="1238.7" cy="94.5" r="3.2"/><circle cx="1250.1" cy="83.5" r="3.2"/><circle cx="1261.5" cy="85.7" r="3.2"/><circle cx="1272.8" cy="80.7" r="3.2"/><circle cx="1284.2" cy="86.1" r="3.2"/><circle cx="1295.6" cy="78.4" r="3.2"/><circle cx="1307.0" cy="76.9" r="3.2"/><circle cx="1318.3" cy="81.0" r="3.2"/><circle cx="1329.7" cy="86.0" r="3.2"/><circle cx="1341.1" cy="82.6" r="3.2"/><circle cx="1352.5" cy="81.2" r="3.2"/><circle cx="1363.8" cy="86.5" r="3.2"/><circle cx="1375.2" cy="86.5" r="3.2"/><circle cx="1386.6" cy="79.5" r="3.2"/><circle cx="1398.0" cy="84.3" r="3.2"/><circle cx="1409.3" cy="80.2" r="3.2"/>
</g>
<path d="M840.6,82.9 L852.0,80.2 L863.4,87.1 L874.7,79.3 L886.1,86.1 L897.5,79.0 L908.9,86.2 L920.2,99.4 L931.6,121.1 L943.0,137.9 L954.4,158.2 L965.7,173.1 L977.1,183.7 L988.5,195.3 L999.9,189.6 L1011.2,186.1 L1022.6,192.0 L1034.0,190.4 L1045.3,194.5 L1056.7,187.8 L1068.1,194.0 L1079.5,187.1 L1090.8,190.0 L1102.2,185.7 L1113.6,185.0 L1125.0,186.0 L1136.3,191.3 L1147.7,189.6 L1159.1,194.2 L1170.5,190.1 L1181.8,188.6 L1193.2,194.5 L1204.6,187.4 L1216.0,186.1 L1227.3,178.9 L1238.7,106.6 L1250.1,87.3 L1261.5,81.4 L1272.8,89.8 L1284.2,84.0 L1295.6,86.7 L1307.0,86.8 L1318.3,81.5 L1329.7,78.8 L1341.1,82.1 L1352.5,80.2 L1363.8,90.5 L1375.2,89.1 L1386.6,86.2 L1398.0,78.2 L1409.3,87.6" fill="none" stroke="#3bbca6" stroke-width="2.0" stroke-linejoin="round"/>
<g fill="url(#m30)" stroke="#1a9482" stroke-width="0.9">
<circle cx="840.6" cy="82.9" r="3.2"/><circle cx="852.0" cy="80.2" r="3.2"/><circle cx="863.4" cy="87.1" r="3.2"/><circle cx="874.7" cy="79.3" r="3.2"/><circle cx="886.1" cy="86.1" r="3.2"/><circle cx="897.5" cy="79.0" r="3.2"/><circle cx="908.9" cy="86.2" r="3.2"/><circle cx="920.2" cy="99.4" r="3.2"/><circle cx="931.6" cy="121.1" r="3.2"/><circle cx="943.0" cy="137.9" r="3.2"/><circle cx="954.4" cy="158.2" r="3.2"/><circle cx="965.7" cy="173.1" r="3.2"/><circle cx="977.1" cy="183.7" r="3.2"/><circle cx="988.5" cy="195.3" r="3.2"/><circle cx="999.9" cy="189.6" r="3.2"/><circle cx="1011.2" cy="186.1" r="3.2"/><circle cx="1022.6" cy="192.0" r="3.2"/><circle cx="1034.0" cy="190.4" r="3.2"/><circle cx="1045.3" cy="194.5" r="3.2"/><circle cx="1056.7" cy="187.8" r="3.2"/><circle cx="1068.1" cy="194.0" r="3.2"/><circle cx="1079.5" cy="187.1" r="3.2"/><circle cx="1090.8" cy="190.0" r="3.2"/><circle cx="1102.2" cy="185.7" r="3.2"/><circle cx="1113.6" cy="185.0" r="3.2"/><circle cx="1125.0" cy="186.0" r="3.2"/><circle cx="1136.3" cy="191.3" r="3.2"/><circle cx="1147.7" cy="189.6" r="3.2"/><circle cx="1159.1" cy="194.2" r="3.2"/><circle cx="1170.5" cy="190.1" r="3.2"/><circle cx="1181.8" cy="188.6" r="3.2"/><circle cx="1193.2" cy="194.5" r="3.2"/><circle cx="1204.6" cy="187.4" r="3.2"/><circle cx="1216.0" cy="186.1" r="3.2"/><circle cx="1227.3" cy="178.9" r="3.2"/><circle cx="1238.7" cy="106.6" r="3.2"/><circle cx="1250.1" cy="87.3" r="3.2"/><circle cx="1261.5" cy="81.4" r="3.2"/><circle cx="1272.8" cy="89.8" r="3.2"/><circle cx="1284.2" cy="84.0" r="3.2"/><circle cx="1295.6" cy="86.7" r="3.2"/><circle cx="1307.0" cy="86.8" r="3.2"/><circle cx="1318.3" cy="81.5" r="3.2"/><circle cx="1329.7" cy="78.8" r="3.2"/><circle cx="1341.1" cy="82.1" r="3.2"/><circle cx="1352.5" cy="80.2" r="3.2"/><circle cx="1363.8" cy="90.5" r="3.2"/><circle cx="1375.2" cy="89.1" r="3.2"/><circle cx="1386.6" cy="86.2" r="3.2"/><circle cx="1398.0" cy="78.2" r="3.2"/><circle cx="1409.3" cy="87.6" r="3.2"/>
</g>
<path d="M840.6,80.8 L852.0,84.9 L863.4,78.7 L874.7,78.8 L886.1,80.6 L897.5,85.4 L908.9,81.4 L920.2,89.7 L931.6,101.8 L943.0,116.2 L954.4,130.7 L965.7,137.9 L977.1,147.6 L988.5,152.4 L999.9,152.4 L1011.2,149.1 L1022.6,146.3 L1034.0,149.5 L1045.3,146.1 L1056.7,147.3 L1068.1,143.8 L1079.5,145.8 L1090.8,143.4 L1102.2,145.0 L1113.6,142.9 L1125.0,152.2 L1136.3,144.9 L1147.7,149.4 L1159.1,148.9 L1170.5,152.7 L1181.8,155.5 L1193.2,153.6 L1204.6,149.5 L1216.0,145.2 L1227.3,106.6 L1238.7,80.1 L1250.1,75.6 L1261.5,83.6 L1272.8,73.0 L1284.2,74.6 L1295.6,72.2 L1307.0,79.6 L1318.3,75.6 L1329.7,81.2 L1341.1,74.5 L1352.5,78.0 L1363.8,74.2 L1375.2,76.1 L1386.6,75.5 L1398.0,80.6 L1409.3,79.9" fill="none" stroke="#43b649" stroke-width="2.0" stroke-linejoin="round"/>
<g fill="url(#m40)" stroke="#228a2e" stroke-width="0.9">
<circle cx="840.6" cy="80.8" r="3.2"/><circle cx="852.0" cy="84.9" r="3.2"/><circle cx="863.4" cy="78.7" r="3.2"/><circle cx="874.7" cy="78.8" r="3.2"/><circle cx="886.1" cy="80.6" r="3.2"/><circle cx="897.5" cy="85.4" r="3.2"/><circle cx="908.9" cy="81.4" r="3.2"/><circle cx="920.2" cy="89.7" r="3.2"/><circle cx="931.6" cy="101.8" r="3.2"/><circle cx="943.0" cy="116.2" r="3.2"/><circle cx="954.4" cy="130.7" r="3.2"/><circle cx="965.7" cy="137.9" r="3.2"/><circle cx="977.1" cy="147.6" r="3.2"/><circle cx="988.5" cy="152.4" r="3.2"/><circle cx="999.9" cy="152.4" r="3.2"/><circle cx="1011.2" cy="149.1" r="3.2"/><circle cx="1022.6" cy="146.3" r="3.2"/><circle cx="1034.0" cy="149.5" r="3.2"/><circle cx="1045.3" cy="146.1" r="3.2"/><circle cx="1056.7" cy="147.3" r="3.2"/><circle cx="1068.1" cy="143.8" r="3.2"/><circle cx="1079.5" cy="145.8" r="3.2"/><circle cx="1090.8" cy="143.4" r="3.2"/><circle cx="1102.2" cy="145.0" r="3.2"/><circle cx="1113.6" cy="142.9" r="3.2"/><circle cx="1125.0" cy="152.2" r="3.2"/><circle cx="1136.3" cy="144.9" r="3.2"/><circle cx="1147.7" cy="149.4" r="3.2"/><circle cx="1159.1" cy="148.9" r="3.2"/><circle cx="1170.5" cy="152.7" r="3.2"/><circle cx="1181.8" cy="155.5" r="3.2"/><circle cx="1193.2" cy="153.6" r="3.2"/><circle cx="1204.6" cy="149.5" r="3.2"/><circle cx="1216.0" cy="145.2" r="3.2"/><circle cx="1227.3" cy="106.6" r="3.2"/><circle cx="1238.7" cy="80.1" r="3.2"/><circle cx="1250.1" cy="75.6" r="3.2"/><circle cx="1261.5" cy="83.6" r="3.2"/><circle cx="1272.8" cy="73.0" r="3.2"/><circle cx="1284.2" cy="74.6" r="3.2"/><circle cx="1295.6" cy="72.2" r="3.2"/><circle cx="1307.0" cy="79.6" r="3.2"/><circle cx="1318.3" cy="75.6" r="3.2"/><circle cx="1329.7" cy="81.2" r="3.2"/><circle cx="1341.1" cy="74.5" r="3.2"/><circle cx="1352.5" cy="78.0" r="3.2"/><circle cx="1363.8" cy="74.2" r="3.2"/><circle cx="1375.2" cy="76.1" r="3.2"/><circle cx="1386.6" cy="75.5" r="3.2"/><circle cx="1398.0" cy="80.6" r="3.2"/><circle cx="1409.3" cy="79.9" r="3.2"/>
</g>
<path d="M840.6,78.8 L852.0,81.7 L863.4,84.3 L874.7,78.8 L886.1,85.5 L897.5,78.6 L908.9,88.1 L920.2,87.3 L931.6,94.5 L943.0,106.6 L954.4,121.1 L965.7,130.7 L977.1,135.5 L988.5,140.3 L999.9,142.9 L1011.2,136.1 L1022.6,141.9 L1034.0,136.7 L1045.3,140.8 L1056.7,134.4 L1068.1,138.6 L1079.5,132.2 L1090.8,138.5 L1102.2,132.5 L1113.6,134.1 L1125.0,136.7 L1136.3,137.7 L1147.7,137.6 L1159.1,145.9 L1170.5,138.5 L1181.8,136.3 L1193.2,132.5 L1204.6,134.5 L1216.0,135.5 L1227.3,99.4 L1238.7,80.1 L1250.1,84.8 L1261.5,81.1 L1272.8,81.4 L1284.2,78.0 L1295.6,79.5 L1307.0,74.8 L1318.3,80.2 L1329.7,78.4 L1341.1,84.7 L1352.5,77.1 L1363.8,84.2 L1375.2,78.4 L1386.6,85.1 L1398.0,77.0 L1409.3,78.8" fill="none" stroke="#92cc3a" stroke-width="2.0" stroke-linejoin="round"/>
<g fill="url(#m50)" stroke="#5a9c1c" stroke-width="0.9">
<circle cx="840.6" cy="78.8" r="3.2"/><circle cx="852.0" cy="81.7" r="3.2"/><circle cx="863.4" cy="84.3" r="3.2"/><circle cx="874.7" cy="78.8" r="3.2"/><circle cx="886.1" cy="85.5" r="3.2"/><circle cx="897.5" cy="78.6" r="3.2"/><circle cx="908.9" cy="88.1" r="3.2"/><circle cx="920.2" cy="87.3" r="3.2"/><circle cx="931.6" cy="94.5" r="3.2"/><circle cx="943.0" cy="106.6" r="3.2"/><circle cx="954.4" cy="121.1" r="3.2"/><circle cx="965.7" cy="130.7" r="3.2"/><circle cx="977.1" cy="135.5" r="3.2"/><circle cx="988.5" cy="140.3" r="3.2"/><circle cx="999.9" cy="142.9" r="3.2"/><circle cx="1011.2" cy="136.1" r="3.2"/><circle cx="1022.6" cy="141.9" r="3.2"/><circle cx="1034.0" cy="136.7" r="3.2"/><circle cx="1045.3" cy="140.8" r="3.2"/><circle cx="1056.7" cy="134.4" r="3.2"/><circle cx="1068.1" cy="138.6" r="3.2"/><circle cx="1079.5" cy="132.2" r="3.2"/><circle cx="1090.8" cy="138.5" r="3.2"/><circle cx="1102.2" cy="132.5" r="3.2"/><circle cx="1113.6" cy="134.1" r="3.2"/><circle cx="1125.0" cy="136.7" r="3.2"/><circle cx="1136.3" cy="137.7" r="3.2"/><circle cx="1147.7" cy="137.6" r="3.2"/><circle cx="1159.1" cy="145.9" r="3.2"/><circle cx="1170.5" cy="138.5" r="3.2"/><circle cx="1181.8" cy="136.3" r="3.2"/><circle cx="1193.2" cy="132.5" r="3.2"/><circle cx="1204.6" cy="134.5" r="3.2"/><circle cx="1216.0" cy="135.5" r="3.2"/><circle cx="1227.3" cy="99.4" r="3.2"/><circle cx="1238.7" cy="80.1" r="3.2"/><circle cx="1250.1" cy="84.8" r="3.2"/><circle cx="1261.5" cy="81.1" r="3.2"/><circle cx="1272.8" cy="81.4" r="3.2"/><circle cx="1284.2" cy="78.0" r="3.2"/><circle cx="1295.6" cy="79.5" r="3.2"/><circle cx="1307.0" cy="74.8" r="3.2"/><circle cx="1318.3" cy="80.2" r="3.2"/><circle cx="1329.7" cy="78.4" r="3.2"/><circle cx="1341.1" cy="84.7" r="3.2"/><circle cx="1352.5" cy="77.1" r="3.2"/><circle cx="1363.8" cy="84.2" r="3.2"/><circle cx="1375.2" cy="78.4" r="3.2"/><circle cx="1386.6" cy="85.1" r="3.2"/><circle cx="1398.0" cy="77.0" r="3.2"/><circle cx="1409.3" cy="78.8" r="3.2"/>
</g>
<path d="M840.6,77.9 L852.0,84.5 L863.4,81.5 L874.7,85.5 L886.1,76.1 L897.5,78.4 L908.9,79.7 L920.2,89.5 L931.6,87.3 L943.0,97.0 L954.4,104.2 L965.7,113.8 L977.1,121.1 L988.5,125.9 L999.9,125.6 L1011.2,129.3 L1022.6,124.3 L1034.0,130.2 L1045.3,122.5 L1056.7,128.2 L1068.1,124.8 L1079.5,121.8 L1090.8,119.2 L1102.2,121.4 L1113.6,124.0 L1125.0,124.3 L1136.3,123.7 L1147.7,124.9 L1159.1,123.1 L1170.5,123.2 L1181.8,120.9 L1193.2,126.5 L1204.6,121.6 L1216.0,130.7 L1227.3,97.0 L1238.7,82.5 L1250.1,84.9 L1261.5,82.1 L1272.8,78.1 L1284.2,85.4 L1295.6,76.6 L1307.0,87.7 L1318.3,88.4 L1329.7,84.8 L1341.1,85.7 L1352.5,86.6 L1363.8,80.2 L1375.2,81.4 L1386.6,85.2 L1398.0,86.9 L1409.3,81.2" fill="none" stroke="#fbbf1e" stroke-width="2.0" stroke-linejoin="round"/>
<g fill="url(#m60)" stroke="#e09000" stroke-width="0.9">
<circle cx="840.6" cy="77.9" r="3.2"/><circle cx="852.0" cy="84.5" r="3.2"/><circle cx="863.4" cy="81.5" r="3.2"/><circle cx="874.7" cy="85.5" r="3.2"/><circle cx="886.1" cy="76.1" r="3.2"/><circle cx="897.5" cy="78.4" r="3.2"/><circle cx="908.9" cy="79.7" r="3.2"/><circle cx="920.2" cy="89.5" r="3.2"/><circle cx="931.6" cy="87.3" r="3.2"/><circle cx="943.0" cy="97.0" r="3.2"/><circle cx="954.4" cy="104.2" r="3.2"/><circle cx="965.7" cy="113.8" r="3.2"/><circle cx="977.1" cy="121.1" r="3.2"/><circle cx="988.5" cy="125.9" r="3.2"/><circle cx="999.9" cy="125.6" r="3.2"/><circle cx="1011.2" cy="129.3" r="3.2"/><circle cx="1022.6" cy="124.3" r="3.2"/><circle cx="1034.0" cy="130.2" r="3.2"/><circle cx="1045.3" cy="122.5" r="3.2"/><circle cx="1056.7" cy="128.2" r="3.2"/><circle cx="1068.1" cy="124.8" r="3.2"/><circle cx="1079.5" cy="121.8" r="3.2"/><circle cx="1090.8" cy="119.2" r="3.2"/><circle cx="1102.2" cy="121.4" r="3.2"/><circle cx="1113.6" cy="124.0" r="3.2"/><circle cx="1125.0" cy="124.3" r="3.2"/><circle cx="1136.3" cy="123.7" r="3.2"/><circle cx="1147.7" cy="124.9" r="3.2"/><circle cx="1159.1" cy="123.1" r="3.2"/><circle cx="1170.5" cy="123.2" r="3.2"/><circle cx="1181.8" cy="120.9" r="3.2"/><circle cx="1193.2" cy="126.5" r="3.2"/><circle cx="1204.6" cy="121.6" r="3.2"/><circle cx="1216.0" cy="130.7" r="3.2"/><circle cx="1227.3" cy="97.0" r="3.2"/><circle cx="1238.7" cy="82.5" r="3.2"/><circle cx="1250.1" cy="84.9" r="3.2"/><circle cx="1261.5" cy="82.1" r="3.2"/><circle cx="1272.8" cy="78.1" r="3.2"/><circle cx="1284.2" cy="85.4" r="3.2"/><circle cx="1295.6" cy="76.6" r="3.2"/><circle cx="1307.0" cy="87.7" r="3.2"/><circle cx="1318.3" cy="88.4" r="3.2"/><circle cx="1329.7" cy="84.8" r="3.2"/><circle cx="1341.1" cy="85.7" r="3.2"/><circle cx="1352.5" cy="86.6" r="3.2"/><circle cx="1363.8" cy="80.2" r="3.2"/><circle cx="1375.2" cy="81.4" r="3.2"/><circle cx="1386.6" cy="85.2" r="3.2"/><circle cx="1398.0" cy="86.9" r="3.2"/><circle cx="1409.3" cy="81.2" r="3.2"/>
</g>
<path d="M840.6,84.1 L852.0,80.4 L863.4,85.0 L874.7,75.0 L886.1,82.6 L897.5,79.2 L908.9,81.5 L920.2,83.5 L931.6,84.9 L943.0,89.7 L954.4,97.0 L965.7,106.6 L977.1,113.8 L988.5,116.2 L999.9,118.6 L1011.2,112.5 L1022.6,118.7 L1034.0,115.1 L1045.3,115.4 L1056.7,106.3 L1068.1,112.2 L1079.5,108.5 L1090.8,114.1 L1102.2,109.8 L1113.6,118.3 L1125.0,112.0 L1136.3,119.1 L1147.7,111.8 L1159.1,115.7 L1170.5,111.3 L1181.8,115.0 L1193.2,106.2 L1204.6,115.1 L1216.0,113.8 L1227.3,99.4 L1238.7,84.9 L1250.1,82.3 L1261.5,81.5 L1272.8,77.6 L1284.2,79.4 L1295.6,87.0 L1307.0,83.9 L1318.3,88.2 L1329.7,81.2 L1341.1,84.4 L1352.5,85.9 L1363.8,86.3 L1375.2,82.4 L1386.6,87.7 L1398.0,78.0 L1409.3,86.1" fill="none" stroke="#f46a1a" stroke-width="2.0" stroke-linejoin="round"/>
<g fill="url(#m70)" stroke="#d04000" stroke-width="0.9">
<circle cx="840.6" cy="84.1" r="3.2"/><circle cx="852.0" cy="80.4" r="3.2"/><circle cx="863.4" cy="85.0" r="3.2"/><circle cx="874.7" cy="75.0" r="3.2"/><circle cx="886.1" cy="82.6" r="3.2"/><circle cx="897.5" cy="79.2" r="3.2"/><circle cx="908.9" cy="81.5" r="3.2"/><circle cx="920.2" cy="83.5" r="3.2"/><circle cx="931.6" cy="84.9" r="3.2"/><circle cx="943.0" cy="89.7" r="3.2"/><circle cx="954.4" cy="97.0" r="3.2"/><circle cx="965.7" cy="106.6" r="3.2"/><circle cx="977.1" cy="113.8" r="3.2"/><circle cx="988.5" cy="116.2" r="3.2"/><circle cx="999.9" cy="118.6" r="3.2"/><circle cx="1011.2" cy="112.5" r="3.2"/><circle cx="1022.6" cy="118.7" r="3.2"/><circle cx="1034.0" cy="115.1" r="3.2"/><circle cx="1045.3" cy="115.4" r="3.2"/><circle cx="1056.7" cy="106.3" r="3.2"/><circle cx="1068.1" cy="112.2" r="3.2"/><circle cx="1079.5" cy="108.5" r="3.2"/><circle cx="1090.8" cy="114.1" r="3.2"/><circle cx="1102.2" cy="109.8" r="3.2"/><circle cx="1113.6" cy="118.3" r="3.2"/><circle cx="1125.0" cy="112.0" r="3.2"/><circle cx="1136.3" cy="119.1" r="3.2"/><circle cx="1147.7" cy="111.8" r="3.2"/><circle cx="1159.1" cy="115.7" r="3.2"/><circle cx="1170.5" cy="111.3" r="3.2"/><circle cx="1181.8" cy="115.0" r="3.2"/><circle cx="1193.2" cy="106.2" r="3.2"/><circle cx="1204.6" cy="115.1" r="3.2"/><circle cx="1216.0" cy="113.8" r="3.2"/><circle cx="1227.3" cy="99.4" r="3.2"/><circle cx="1238.7" cy="84.9" r="3.2"/><circle cx="1250.1" cy="82.3" r="3.2"/><circle cx="1261.5" cy="81.5" r="3.2"/><circle cx="1272.8" cy="77.6" r="3.2"/><circle cx="1284.2" cy="79.4" r="3.2"/><circle cx="1295.6" cy="87.0" r="3.2"/><circle cx="1307.0" cy="83.9" r="3.2"/><circle cx="1318.3" cy="88.2" r="3.2"/><circle cx="1329.7" cy="81.2" r="3.2"/><circle cx="1341.1" cy="84.4" r="3.2"/><circle cx="1352.5" cy="85.9" r="3.2"/><circle cx="1363.8" cy="86.3" r="3.2"/><circle cx="1375.2" cy="82.4" r="3.2"/><circle cx="1386.6" cy="87.7" r="3.2"/><circle cx="1398.0" cy="78.0" r="3.2"/><circle cx="1409.3" cy="86.1" r="3.2"/>
</g>
<path d="M840.6,81.9 L852.0,83.1 L863.4,78.7 L874.7,82.8 L886.1,84.6 L897.5,81.1 L908.9,85.8 L920.2,83.5 L931.6,82.5 L943.0,84.9 L954.4,87.3 L965.7,96.0 L977.1,107.1 L988.5,103.7 L999.9,104.9 L1011.2,108.9 L1022.6,103.2 L1034.0,106.1 L1045.3,106.3 L1056.7,107.8 L1068.1,108.3 L1079.5,109.0 L1090.8,103.2 L1102.2,112.4 L1113.6,107.3 L1125.0,112.2 L1136.3,103.0 L1147.7,109.8 L1159.1,102.6 L1170.5,107.7 L1181.8,99.3 L1193.2,107.3 L1204.6,101.5 L1216.0,111.4 L1227.3,101.8 L1238.7,84.9 L1250.1,83.1 L1261.5,88.1 L1272.8,82.6 L1284.2,86.4 L1295.6,78.2 L1307.0,86.2 L1318.3,86.7 L1329.7,87.5 L1341.1,78.2 L1352.5,76.4 L1363.8,82.3 L1375.2,85.1 L1386.6,77.4 L1398.0,88.0 L1409.3,88.3" fill="none" stroke="#ea2222" stroke-width="2.0" stroke-linejoin="round"/>
<g fill="url(#m100)" stroke="#b80808" stroke-width="0.9">
<circle cx="840.6" cy="81.9" r="3.2"/><circle cx="852.0" cy="83.1" r="3.2"/><circle cx="863.4" cy="78.7" r="3.2"/><circle cx="874.7" cy="82.8" r="3.2"/><circle cx="886.1" cy="84.6" r="3.2"/><circle cx="897.5" cy="81.1" r="3.2"/><circle cx="908.9" cy="85.8" r="3.2"/><circle cx="920.2" cy="83.5" r="3.2"/><circle cx="931.6" cy="82.5" r="3.2"/><circle cx="943.0" cy="84.9" r="3.2"/><circle cx="954.4" cy="87.3" r="3.2"/><circle cx="965.7" cy="96.0" r="3.2"/><circle cx="977.1" cy="107.1" r="3.2"/><circle cx="988.5" cy="103.7" r="3.2"/><circle cx="999.9" cy="104.9" r="3.2"/><circle cx="1011.2" cy="108.9" r="3.2"/><circle cx="1022.6" cy="103.2" r="3.2"/><circle cx="1034.0" cy="106.1" r="3.2"/><circle cx="1045.3" cy="106.3" r="3.2"/><circle cx="1056.7" cy="107.8" r="3.2"/><circle cx="1068.1" cy="108.3" r="3.2"/><circle cx="1079.5" cy="109.0" r="3.2"/><circle cx="1090.8" cy="103.2" r="3.2"/><circle cx="1102.2" cy="112.4" r="3.2"/><circle cx="1113.6" cy="107.3" r="3.2"/><circle cx="1125.0" cy="112.2" r="3.2"/><circle cx="1136.3" cy="103.0" r="3.2"/><circle cx="1147.7" cy="109.8" r="3.2"/><circle cx="1159.1" cy="102.6" r="3.2"/><circle cx="1170.5" cy="107.7" r="3.2"/><circle cx="1181.8" cy="99.3" r="3.2"/><circle cx="1193.2" cy="107.3" r="3.2"/><circle cx="1204.6" cy="101.5" r="3.2"/><circle cx="1216.0" cy="111.4" r="3.2"/><circle cx="1227.3" cy="101.8" r="3.2"/><circle cx="1238.7" cy="84.9" r="3.2"/><circle cx="1250.1" cy="83.1" r="3.2"/><circle cx="1261.5" cy="88.1" r="3.2"/><circle cx="1272.8" cy="82.6" r="3.2"/><circle cx="1284.2" cy="86.4" r="3.2"/><circle cx="1295.6" cy="78.2" r="3.2"/><circle cx="1307.0" cy="86.2" r="3.2"/><circle cx="1318.3" cy="86.7" r="3.2"/><circle cx="1329.7" cy="87.5" r="3.2"/><circle cx="1341.1" cy="78.2" r="3.2"/><circle cx="1352.5" cy="76.4" r="3.2"/><circle cx="1363.8" cy="82.3" r="3.2"/><circle cx="1375.2" cy="85.1" r="3.2"/><circle cx="1386.6" cy="77.4" r="3.2"/><circle cx="1398.0" cy="88.0" r="3.2"/><circle cx="1409.3" cy="88.3" r="3.2"/>
</g>
</g>
<line x1="1237.5" y1="153.0" x2="1294" y2="153.0" stroke="#4a2b9b" stroke-width="1.8"/>
<circle cx="1264" cy="153.0" r="3.2" fill="url(#m0)" stroke="#2e1a78" stroke-width="0.9"/>
<text x="1398" y="161.7" text-anchor="end" class="b25">0 mm</text>
<line x1="1237.5" y1="185.6" x2="1294" y2="185.6" stroke="#3a34a8" stroke-width="1.8"/>
<circle cx="1264" cy="185.6" r="3.2" fill="url(#m5)" stroke="#231c80" stroke-width="0.9"/>
<text x="1398" y="194.3" text-anchor="end" class="b25">5 mm</text>
<line x1="1237.5" y1="218.2" x2="1294" y2="218.2" stroke="#2f55c8" stroke-width="1.8"/>
<circle cx="1264" cy="218.2" r="3.2" fill="url(#m10)" stroke="#1c2f96" stroke-width="0.9"/>
<text x="1398" y="226.9" text-anchor="end" class="b25">10 mm</text>
<line x1="1237.5" y1="250.8" x2="1294" y2="250.8" stroke="#2a9fe0" stroke-width="1.8"/>
<circle cx="1264" cy="250.8" r="3.2" fill="url(#m20)" stroke="#1677ba" stroke-width="0.9"/>
<text x="1398" y="259.5" text-anchor="end" class="b25">20 mm</text>
<line x1="1237.5" y1="283.4" x2="1294" y2="283.4" stroke="#3bbca6" stroke-width="1.8"/>
<circle cx="1264" cy="283.4" r="3.2" fill="url(#m30)" stroke="#1a9482" stroke-width="0.9"/>
<text x="1398" y="292.1" text-anchor="end" class="b25">30 mm</text>
<line x1="1237.5" y1="316.0" x2="1294" y2="316.0" stroke="#43b649" stroke-width="1.8"/>
<circle cx="1264" cy="316.0" r="3.2" fill="url(#m40)" stroke="#228a2e" stroke-width="0.9"/>
<text x="1398" y="324.7" text-anchor="end" class="b25">40 mm</text>
<line x1="1237.5" y1="348.6" x2="1294" y2="348.6" stroke="#92cc3a" stroke-width="1.8"/>
<circle cx="1264" cy="348.6" r="3.2" fill="url(#m50)" stroke="#5a9c1c" stroke-width="0.9"/>
<text x="1398" y="357.3" text-anchor="end" class="b25">50 mm</text>
<line x1="1237.5" y1="381.2" x2="1294" y2="381.2" stroke="#fbbf1e" stroke-width="1.8"/>
<circle cx="1264" cy="381.2" r="3.2" fill="url(#m60)" stroke="#e09000" stroke-width="0.9"/>
<text x="1398" y="389.9" text-anchor="end" class="b25">60 mm</text>
<line x1="1237.5" y1="413.8" x2="1294" y2="413.8" stroke="#f46a1a" stroke-width="1.8"/>
<circle cx="1264" cy="413.8" r="3.2" fill="url(#m70)" stroke="#d04000" stroke-width="0.9"/>
<text x="1398" y="422.5" text-anchor="end" class="b25">70 mm</text>
<line x1="1237.5" y1="446.4" x2="1294" y2="446.4" stroke="#ea2222" stroke-width="1.8"/>
<circle cx="1264" cy="446.4" r="3.2" fill="url(#m100)" stroke="#b80808" stroke-width="0.9"/>
<text x="1398" y="455.1" text-anchor="end" class="b25">100 mm</text>
<rect x="842.5" y="34.5" width="566.1" height="456.5" fill="none" stroke="#000" stroke-width="3.6"/>
<text x="832" y="476.3" text-anchor="end" class="b25">1.4</text>
<text x="832" y="428.1" text-anchor="end" class="b25">1.5</text>
<text x="832" y="379.9" text-anchor="end" class="b25">1.6</text>
<text x="832" y="331.7" text-anchor="end" class="b25">1.7</text>
<text x="832" y="283.5" text-anchor="end" class="b25">1.8</text>
<text x="832" y="235.3" text-anchor="end" class="b25">1.9</text>
<text x="832" y="187.1" text-anchor="end" class="b25">2.0</text>
<text x="832" y="138.9" text-anchor="end" class="b25">2.1</text>
<text x="832" y="90.7" text-anchor="end" class="b25">2.2</text>
<text x="832" y="42.5" text-anchor="end" class="b25">2.3</text>
<text x="842.5" y="521.3" text-anchor="middle" class="b25">0.0</text>
<text x="913.3" y="521.3" text-anchor="middle" class="b25">0.5</text>
<text x="984.0" y="521.3" text-anchor="middle" class="b25">1.0</text>
<text x="1054.8" y="521.3" text-anchor="middle" class="b25">1.5</text>
<text x="1125.5" y="521.3" text-anchor="middle" class="b25">2.0</text>
<text x="1196.3" y="521.3" text-anchor="middle" class="b25">2.5</text>
<text x="1267.1" y="521.3" text-anchor="middle" class="b25">3.0</text>
<text x="1337.8" y="521.3" text-anchor="middle" class="b25">3.5</text>
<text x="1408.6" y="521.3" text-anchor="middle" class="b25">4.0</text>
<path d="M842.5,468.1h8 M842.5,419.9h8 M842.5,444.0h4.2 M842.5,371.7h8 M842.5,395.8h4.2 M842.5,323.5h8 M842.5,347.6h4.2 M842.5,275.3h8 M842.5,299.4h4.2 M842.5,227.1h8 M842.5,251.2h4.2 M842.5,178.9h8 M842.5,203.0h4.2 M842.5,130.7h8 M842.5,154.8h4.2 M842.5,82.5h8 M842.5,106.6h4.2 M842.5,58.4h4.2 M877.9,491.0v-4.2 M913.3,491.0v-8.5 M948.6,491.0v-4.2 M984.0,491.0v-8.5 M1019.4,491.0v-4.2 M1054.8,491.0v-8.5 M1090.2,491.0v-4.2 M1125.5,491.0v-8.5 M1160.9,491.0v-4.2 M1196.3,491.0v-8.5 M1231.7,491.0v-4.2 M1267.1,491.0v-8.5 M1302.5,491.0v-4.2 M1337.8,491.0v-8.5 M1373.2,491.0v-4.2" stroke="#000" stroke-width="3.2" fill="none"/>
<text transform="translate(783.0,263.5) rotate(-90)" text-anchor="middle" style="font-size:38.9px" class="b">Capacitance (pF)</text>
</g>
<g id="labels">
<text x="4.5" y="45.5" class="b55">(a)</text>
<text x="718" y="43.3" class="b55">(b)</text>
<text x="314" y="54.3" class="b34">Electrode</text>
<text x="311" y="253.6" class="b34">Electrical field</text>
<g fill="#9a9a9a"><rect x="1437.6" y="229.5" width="2.4" height="3.4"/><rect x="1438" y="244.6" width="2" height="3.2" fill="#b5b5b5"/><rect x="1437.6" y="268.2" width="2.4" height="3.4"/></g>
</g>
</svg>
</body></html>
